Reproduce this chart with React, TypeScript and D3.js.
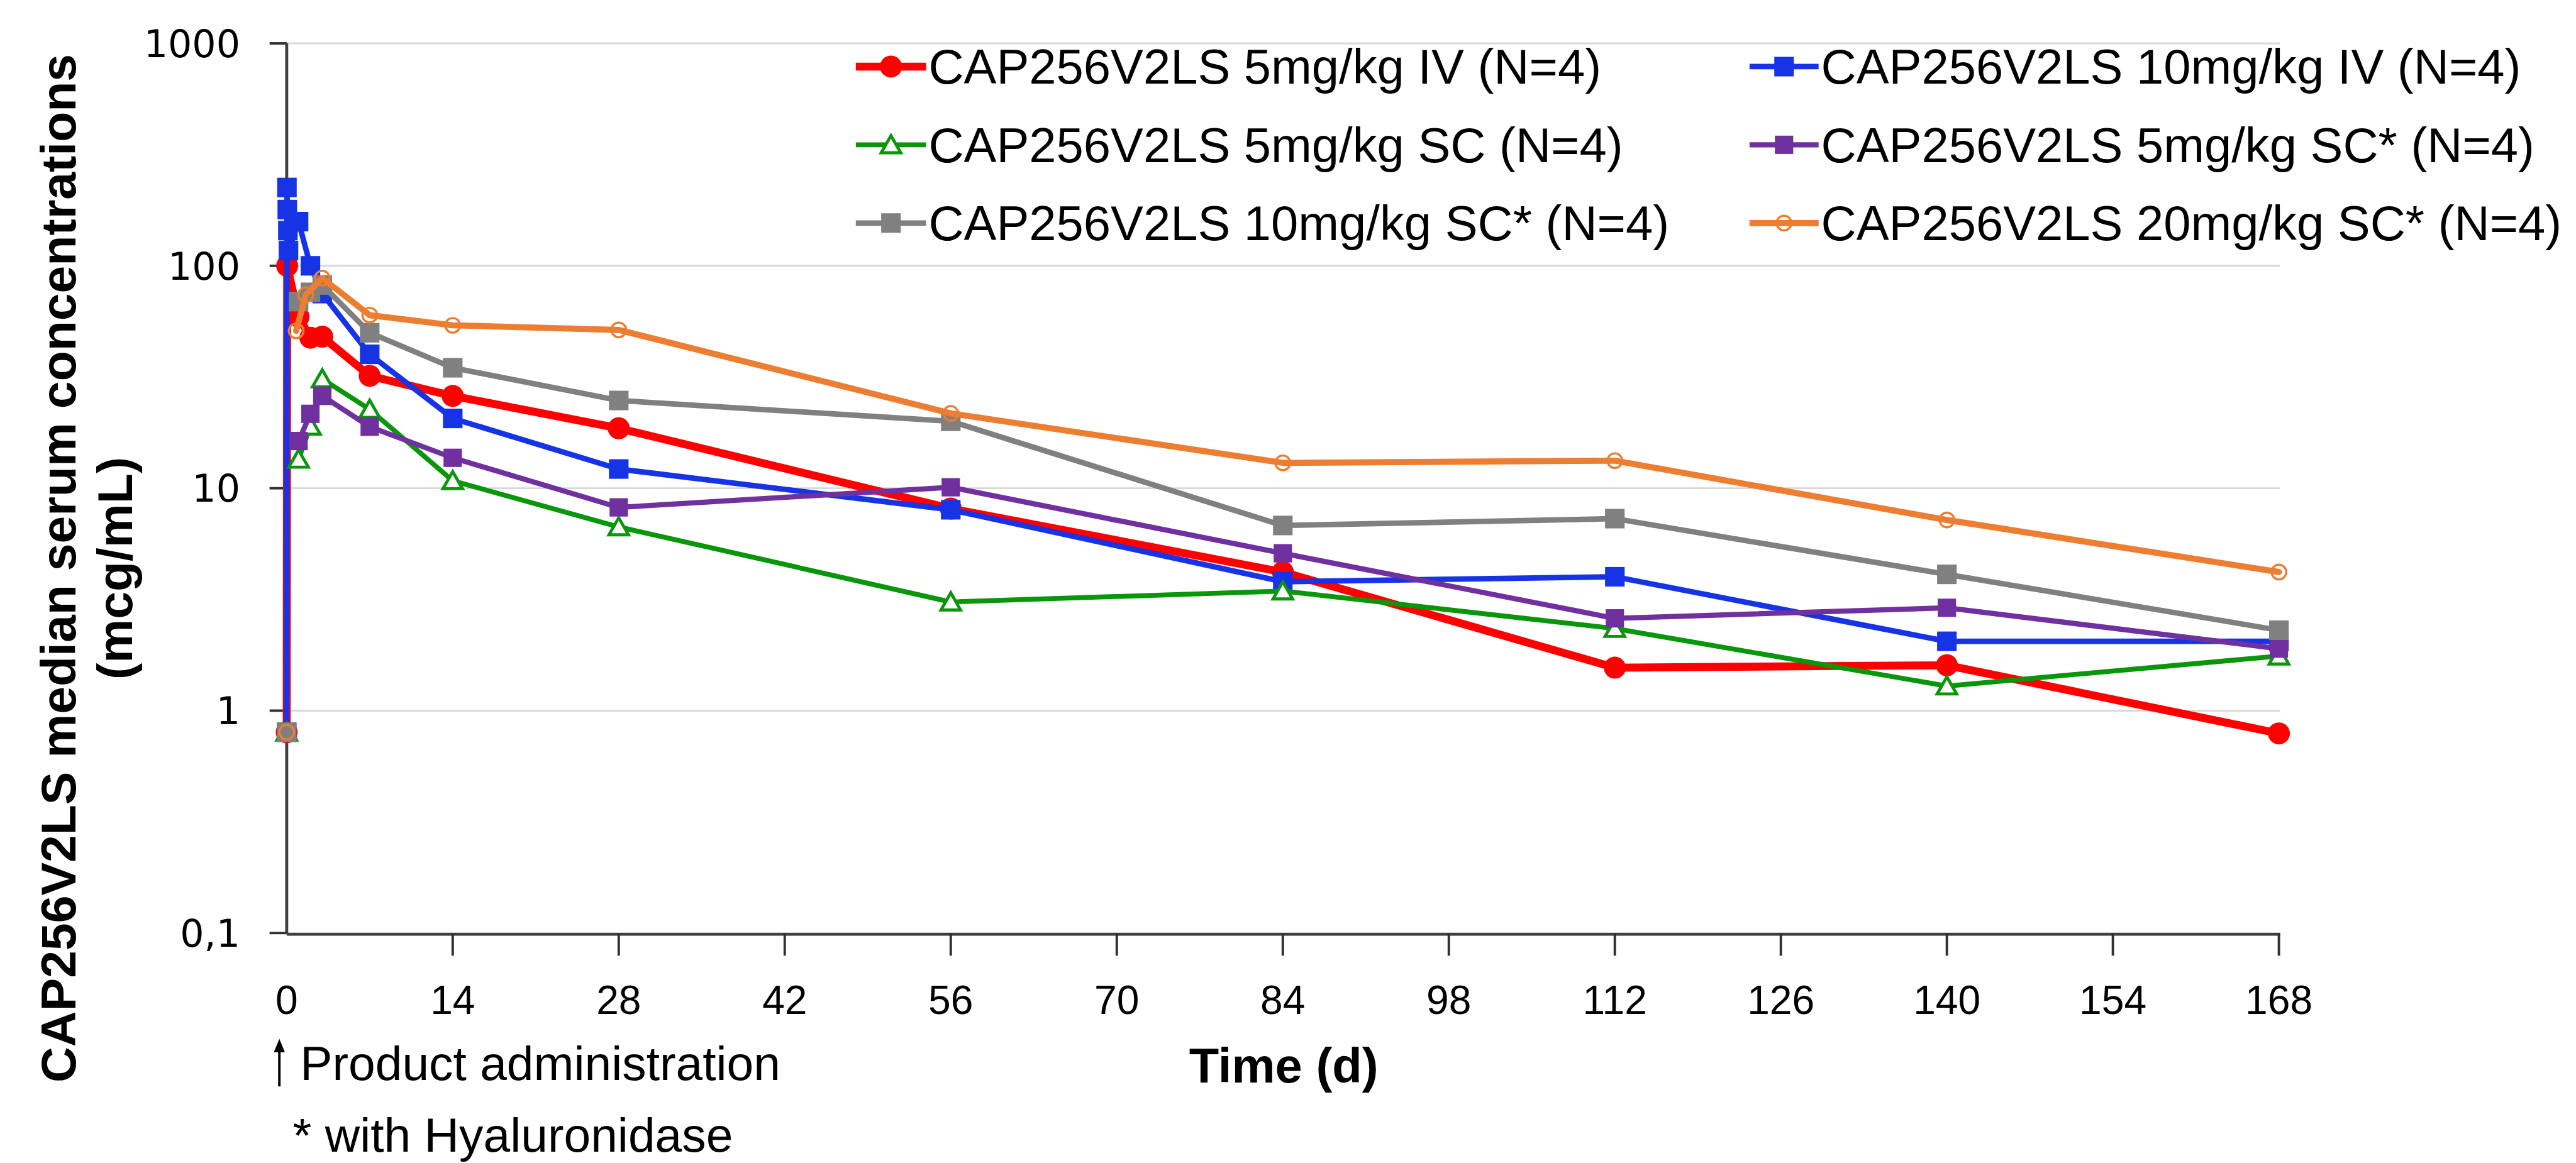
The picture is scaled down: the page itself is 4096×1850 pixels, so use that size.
import React from 'react';
import * as d3 from 'd3';

// ---------- data ----------
const seriesLabels = [
  'CAP256V2LS 5mg/kg IV (N=4)',
  'CAP256V2LS 10mg/kg IV (N=4)',
  'CAP256V2LS 5mg/kg SC (N=4)',
  'CAP256V2LS 5mg/kg SC* (N=4)',
  'CAP256V2LS 10mg/kg SC* (N=4)',
  'CAP256V2LS 20mg/kg SC* (N=4)',
];
const seriesColors = ['#ff0000', '#1733e6', '#0a960a', '#7030a0', '#808080', '#ed7d31'];
const seriesMarkers = ['circle', 'square', 'triangle', 'squareSm', 'square', 'ring'];
const seriesLineWidths = [13, 9, 8, 8.5, 9, 10];
// whether the line joins the pre-dose (day 0) point
const seriesJoinPredose = [true, true, false, false, false, false];

const redDays = [0, 0.04, 1, 2, 3, 7, 14, 28, 56, 84, 112, 140, 168];
const redValues = [0.8, 100, 59, 47.5, 48, 32, 26, 18.6, 8.1, 4.2, 1.56, 1.6, 0.79];

const blueDays = [0, 0.02, 0.05, 0.1, 0.15, 1, 2, 3, 7, 14, 28, 56, 84, 112, 140, 168];
const blueValues = [0.8, 225, 179, 144, 117, 158, 100, 75, 40, 20.6, 12.2, 8.0, 3.8, 4.0, 2.05, 2.05];

const greenDays = [0, 1, 2, 3, 7, 14, 28, 56, 84, 112, 140, 168];
const greenValues = [0.8, 13.5, 19, 31, 22.6, 10.8, 6.7, 3.08, 3.45, 2.34, 1.29, 1.76];

const purpleDays = [0, 1, 2, 3, 7, 14, 28, 56, 84, 112, 140, 168];
const purpleValues = [0.8, 16.3, 21.6, 26, 18.9, 13.7, 8.2, 10.1, 5.1, 2.6, 2.9, 1.9];

const grayDays = [0, 1, 2, 3, 7, 14, 28, 56, 84, 112, 140, 168];
const grayValues = [0.8, 69, 76, 82, 50, 34.8, 24.8, 20, 6.8, 7.3, 4.1, 2.3];

const orangeDays = [0, 0.8, 1.6, 3, 7, 14, 28, 56, 84, 112, 140, 168];
const orangeValues = [0.8, 51, 74, 88, 60, 54, 51.5, 21.7, 13, 13.3, 7.2, 4.2];

const seriesDays = [redDays, blueDays, greenDays, purpleDays, grayDays, orangeDays];
const seriesValues = [redValues, blueValues, greenValues, purpleValues, grayValues, orangeValues];

const xTicks = [0, 14, 28, 42, 56, 70, 84, 98, 112, 126, 140, 154, 168];
const yTicks = [1000, 100, 10, 1, 0.1];
const yTickLabels = ['1000', '100', '10', '1', '0,1'];

const yTitle1 = 'CAP256V2LS median serum concentrations';
const yTitle2 = '(mcg/mL)';
const xTitle = 'Time (d)';
const noteAdmin = 'Product administration';
const noteHyal = '* with Hyaluronidase';

// ---------- layout (reference pixel space, scaled at render) ----------
const SCALE = 0.972;
const W = 4096;
const H = 1850;
const PLOT_L = 469;
const PLOT_R = 3728;
const PLOT_T = 71;
const PLOT_B = 1527;
const SANS = '"Liberation Sans", Arial, sans-serif';
const VERD = '"DejaVu Sans", Verdana, sans-serif';

const xScale = d3.scaleLinear().domain([0, 168]).range([PLOT_L, PLOT_R]);
const yScale = d3.scaleLog().domain([0.1, 1000]).range([PLOT_B, PLOT_T]);

function Marker({ kind, color, x, y }: { kind: string; color: string; x: number; y: number }) {
  if (kind === 'circle') return <circle cx={x} cy={y} r={18} fill={color} />;
  if (kind === 'square') return <rect x={x - 16} y={y - 16} width={32} height={32} fill={color} />;
  if (kind === 'squareSm') return <rect x={x - 15} y={y - 15} width={30} height={30} fill={color} />;
  if (kind === 'triangle')
    return (
      <polygon
        points={`${x},${y - 15} ${x + 16},${y + 13} ${x - 16},${y + 13}`}
        fill="#ffffff"
        stroke={color}
        strokeWidth={5}
        strokeLinejoin="miter"
      />
    );
  return <circle cx={x} cy={y} r={12} fill="none" stroke={color} strokeWidth={3.5} />;
}

export default function App() {
  const line = d3
    .line<[number, number]>()
    .x((d) => xScale(d[0]))
    .y((d) => yScale(d[1]));

  const legendRowsBaseline = [137, 265, 393];
  const legendLineX = [
    [1400, 1515],
    [2862, 2975],
  ];
  const legendTextX = [1519, 2979];

  return (
    <svg
      width={W}
      height={H}
      style={{ position: 'absolute', left: 0, top: 0, display: 'block', background: '#ffffff' }}
    >
      <rect x={0} y={0} width={W} height={H} fill="#ffffff" />
      <g transform={`scale(${SCALE})`}>
        {/* gridlines */}
        {yTicks
          .filter((t) => t > 0.1)
          .map((t) => (
            <line
              key={'g' + t}
              x1={PLOT_L}
              x2={PLOT_R + 2}
              y1={yScale(t)}
              y2={yScale(t)}
              stroke="#d9d9d9"
              strokeWidth={3}
            />
          ))}
        {/* y axis */}
        <line x1={PLOT_L} x2={PLOT_L} y1={PLOT_T} y2={PLOT_B} stroke="#404040" strokeWidth={5} />
        {yTicks.map((t, i) => (
          <g key={'yt' + t}>
            <line x1={PLOT_L - 28} x2={PLOT_L} y1={yScale(t)} y2={yScale(t)} stroke="#303030" strokeWidth={4} />
            <text
              x={393}
              y={yScale(t)}
              dy="0.36em"
              textAnchor="end"
              fontFamily={VERD}
              fontSize={62}
              fill="#000"
            >
              {yTickLabels[i]}
            </text>
          </g>
        ))}
        {/* x axis */}
        <line x1={PLOT_L} x2={PLOT_R + 2} y1={PLOT_B + 2} y2={PLOT_B + 2} stroke="#404040" strokeWidth={5} />
        {xTicks.map((t) => (
          <g key={'xt' + t}>
            {t > 0 && (
              <line x1={xScale(t)} x2={xScale(t)} y1={PLOT_B} y2={PLOT_B + 37} stroke="#303030" strokeWidth={4} />
            )}
            <text x={xScale(t)} y={1659} textAnchor="middle" fontFamily={SANS} fontSize={66} fill="#000">
              {t}
            </text>
          </g>
        ))}

        {/* series */}
        {seriesValues.map((vals, si) => {
          const pts: [number, number][] = vals.map((v, j) => [seriesDays[si][j], v]);
          const linePts = seriesJoinPredose[si] ? pts : pts.slice(1);
          return (
            <g key={'s' + si}>
              <path
                d={line(linePts) || ''}
                fill="none"
                stroke={seriesColors[si]}
                strokeWidth={seriesLineWidths[si]}
                strokeLinejoin="round"
                strokeLinecap="round"
              />
              {pts.map((p, j) => (
                <Marker
                  key={j}
                  kind={seriesMarkers[si]}
                  color={seriesColors[si]}
                  x={xScale(p[0])}
                  y={yScale(p[1])}
                />
              ))}
            </g>
          );
        })}

        {/* legend */}
        {seriesLabels.map((lab, i) => {
          const row = Math.floor(i / 2);
          const col = i % 2;
          const by = legendRowsBaseline[row];
          const cy = by - 28;
          const [lx1, lx2] = legendLineX[col];
          return (
            <g key={'l' + i}>
              <line
                x1={lx1}
                x2={lx2}
                y1={cy}
                y2={cy}
                stroke={seriesColors[i]}
                strokeWidth={seriesLineWidths[i]}
              />
              <Marker kind={seriesMarkers[i]} color={seriesColors[i]} x={(lx1 + lx2) / 2} y={cy} />
              <text x={legendTextX[col]} y={by} fontFamily={SANS} fontSize={80} fill="#000">
                {lab}
              </text>
            </g>
          );
        })}

        {/* y title */}
        <text
          transform={`translate(123,930) rotate(-90)`}
          textAnchor="middle"
          fontFamily={SANS}
          fontWeight="bold"
          fontSize={81}
          fill="#000"
        >
          {yTitle1}
        </text>
        <text
          transform={`translate(216,930) rotate(-90)`}
          textAnchor="middle"
          fontFamily={SANS}
          fontWeight="bold"
          fontSize={81}
          fill="#000"
        >
          {yTitle2}
        </text>

        {/* x title */}
        <text x={2100} y={1772} textAnchor="middle" fontFamily={SANS} fontWeight="bold" fontSize={80} fill="#000">
          {xTitle}
        </text>

        {/* notes */}
        <line x1={457} x2={457} y1={1778} y2={1718} stroke="#000" strokeWidth={4} />
        <polygon points="457,1700 448,1722 466,1722" fill="#000" />
        <text x={491} y={1768} fontFamily={SANS} fontSize={79} fill="#000">
          {noteAdmin}
        </text>
        <text x={479} y={1885} fontFamily={SANS} fontSize={79} fill="#000">
          {noteHyal}
        </text>
      </g>
    </svg>
  );
}
